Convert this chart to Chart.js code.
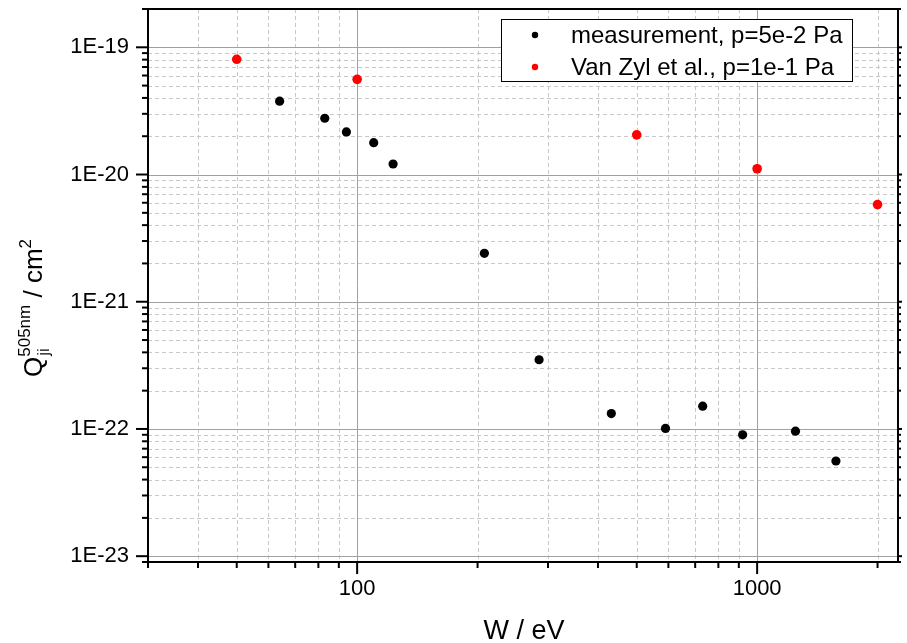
<!DOCTYPE html>
<html>
<head>
<meta charset="utf-8">
<script src="https://cdn.jsdelivr.net/npm/chart.js@4.4.0/dist/chart.umd.min.js"></script>
<style>
  body { margin: 0; background: #fff; }
  #wrap { width: 907px; height: 643px; }
</style>
</head>
<body>
<div id="wrap"><canvas id="grafica"></canvas></div>
<script>
// datos
const measW = [64, 83, 94, 110, 123, 208, 285, 432, 590, 731, 920, 1247, 1574];
const measQ = [3.77e-20, 2.77e-20, 2.16e-20, 1.78e-20, 1.21e-20, 2.4e-21, 3.5e-22, 1.32e-22, 1.01e-22, 1.51e-22, 9.0e-23, 9.6e-23, 5.6e-23];
const vanZylW = [50, 100, 500, 1000, 2000];
const vanZylQ = [8.05e-20, 5.6e-20, 2.05e-20, 1.11e-20, 5.8e-21];

const xMajor = [100, 1000];
const xTickLabels = ['100', '1000'];
const xMinor = [30, 40, 50, 60, 70, 80, 90, 200, 300, 400, 500, 600, 700, 800, 900, 2000];
const yMajor = [1e-23, 1e-22, 1e-21, 1e-20, 1e-19];
const yTickLabels = ['1E-23', '1E-22', '1E-21', '1E-20', '1E-19'];

const FONT = '"Liberation Sans", Arial, sans-serif';

// menores de y: 2..9 por decada, dentro del rango
const yMinor = [9e-24];
for (const d of yMajor) {
  for (let k = 2; k <= 9; k++) {
    const v = k * d;
    if (v <= 2e-19) yMinor.push(v);
  }
}

function line(ctx, x1, y1, x2, y2) {
  ctx.beginPath();
  ctx.moveTo(x1, y1);
  ctx.lineTo(x2, y2);
  ctx.stroke();
}

const marcoPlugin = {
  id: 'marco',
  beforeDatasetsDraw(chart) {
    const { ctx, chartArea: a, scales: { x, y } } = chart;
    ctx.save();
    ctx.lineWidth = 1;
    // rejilla menor punteada
    ctx.strokeStyle = '#c8c8c8';
    ctx.setLineDash([4, 3]);
    for (const v of xMinor) {
      const px = Math.round(x.getPixelForValue(v)) + 0.5;
      line(ctx, px, a.top, px, a.bottom);
    }
    for (const v of yMinor) {
      const py = Math.round(y.getPixelForValue(v)) + 0.5;
      line(ctx, a.left, py, a.right, py);
    }
    // rejilla mayor
    ctx.setLineDash([]);
    ctx.strokeStyle = '#a0a0a0';
    for (const v of xMajor) {
      const px = Math.round(x.getPixelForValue(v)) + 0.5;
      line(ctx, px, a.top, px, a.bottom);
    }
    for (const v of yMajor) {
      const py = Math.round(y.getPixelForValue(v)) + 0.5;
      line(ctx, a.left, py, a.right, py);
    }
    ctx.restore();
  },
  afterDraw(chart) {
    const { ctx, chartArea: a, scales: { x, y } } = chart;
    ctx.save();
    ctx.strokeStyle = '#000';
    ctx.lineWidth = 2;
    ctx.strokeRect(a.left, a.top, a.right - a.left, a.bottom - a.top);

    // marcas de los ejes
    for (const v of xMajor) {
      const px = x.getPixelForValue(v);
      line(ctx, px, a.bottom, px, a.bottom + 12);
    }
    for (const v of xMinor) {
      const px = x.getPixelForValue(v);
      line(ctx, px, a.bottom, px, a.bottom + 6);
    }
    for (const v of yMajor) {
      const py = y.getPixelForValue(v);
      line(ctx, a.left - 12, py, a.left, py);
      line(ctx, a.right, py, a.right + 4, py);
    }
    for (const v of yMinor) {
      const py = y.getPixelForValue(v);
      line(ctx, a.left - 6, py, a.left, py);
      line(ctx, a.right, py, a.right + 3, py);
    }

    // leyenda
    const lx = 501, ly = 19, lw = 351, lh = 62;
    ctx.fillStyle = '#fff';
    ctx.fillRect(lx, ly, lw, lh);
    ctx.lineWidth = 1;
    ctx.strokeRect(lx + 0.5, ly + 0.5, lw, lh);
    chart.data.datasets.forEach((ds, i) => {
      const cy = 35 + i * 32;
      ctx.fillStyle = ds.backgroundColor;
      ctx.beginPath();
      ctx.arc(535, cy, 3.2, 0, Math.PI * 2);
      ctx.fill();
      ctx.fillStyle = '#000';
      ctx.font = '24px ' + FONT;
      ctx.textBaseline = 'middle';
      ctx.textAlign = 'left';
      ctx.fillText(ds.label, 571, cy + 1);
    });

    // titulo eje x
    ctx.fillStyle = '#000';
    ctx.font = '27px ' + FONT;
    ctx.textAlign = 'center';
    ctx.textBaseline = 'alphabetic';
    ctx.fillText('W / eV', 524, 639);

    // titulo eje y con super/subindices
    const big = '26px ' + FONT, small = '17px ' + FONT;
    ctx.font = big; const wQ = ctx.measureText('Q').width;
    const wRest = ctx.measureText(' / cm').width;
    ctx.font = small;
    const wSup = ctx.measureText('505nm').width;
    const wSub = ctx.measureText('ji').width;
    const w2 = ctx.measureText('2').width;
    const total = wQ + Math.max(wSup, wSub) + wRest + w2;
    ctx.translate(41.5, 308 + total / 2);
    ctx.rotate(-Math.PI / 2);
    ctx.textAlign = 'left';
    let cx = 0;
    ctx.font = big; ctx.fillText('Q', cx, 0); cx += wQ;
    ctx.font = small;
    ctx.fillText('505nm', cx, -12);
    ctx.fillText('ji', cx + 1, 7);
    cx += Math.max(wSup, wSub);
    ctx.font = big; ctx.fillText(' / cm', cx, 0); cx += wRest;
    ctx.font = small; ctx.fillText('2', cx, -11);
    ctx.restore();
  }
};

document.addEventListener('DOMContentLoaded', () => {
  const ctx = document.getElementById('grafica').getContext('2d');
  new Chart(ctx, {
    type: 'scatter',
    data: {
      datasets: [
        {
          label: 'measurement, p=5e-2 Pa',
          data: measW.map((w, i) => ({ x: w, y: measQ[i] })),
          backgroundColor: '#000000',
          borderWidth: 0,
          pointRadius: 4.6
        },
        {
          label: 'Van Zyl et al., p=1e-1 Pa',
          data: vanZylW.map((w, i) => ({ x: w, y: vanZylQ[i] })),
          backgroundColor: '#ff0000',
          borderWidth: 0,
          pointRadius: 4.8
        }
      ]
    },
    options: {
      responsive: true,
      maintainAspectRatio: false,
      animation: false,
      devicePixelRatio: 1,
      layout: { padding: { left: 0, right: 9, top: 9, bottom: 0 } },
      plugins: { legend: { display: false }, tooltip: { enabled: false } },
      scales: {
        x: {
          type: 'logarithmic',
          min: 30,
          max: 2250,
          grid: { display: false, drawTicks: false },
          border: { display: false },
          afterBuildTicks: (scale) => {
            scale.ticks = xMajor.map(v => ({ value: v, major: true }));
          },
          afterFit: (scale) => {
            scale.height = 81;
            scale.paddingLeft = 0;
            scale.paddingRight = 0;
          },
          ticks: {
            autoSkip: false,
            maxRotation: 0,
            padding: 14,
            color: '#000',
            font: { family: FONT, size: 22 },
            callback: (value) => {
              const i = xMajor.indexOf(value);
              return i >= 0 ? xTickLabels[i] : '';
            }
          }
        },
        y: {
          type: 'logarithmic',
          min: 9e-24,
          max: 2e-19,
          grid: { display: false, drawTicks: false },
          border: { display: false },
          afterBuildTicks: (scale) => {
            scale.ticks = yMajor.map(v => ({ value: v, major: true }));
          },
          afterFit: (scale) => {
            scale.width = 148;
            scale.paddingTop = 0;
            scale.paddingBottom = 0;
          },
          ticks: {
            autoSkip: false,
            padding: 19,
            color: '#000',
            font: { family: FONT, size: 22 },
            callback: (value) => {
              const i = yMajor.indexOf(value);
              return i >= 0 ? yTickLabels[i] : '';
            }
          }
        }
      }
    },
    plugins: [marcoPlugin]
  });
});
</script>
</body>
</html>
